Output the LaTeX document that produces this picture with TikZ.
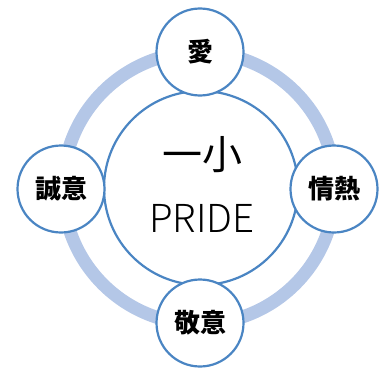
\documentclass[tikz,border=0pt]{standalone}
\usepackage{fontspec}
\newfontfamily\jpfont{Noto Sans CJK JP}
\newfontfamily\pridefont{Noto Sans CJK JP Light}
\definecolor{RingBlue}{HTML}{B4C7E7}
\definecolor{EdgeBlue}{HTML}{4A85C3}
\usetikzlibrary{positioning}
\tikzset{
	core/.style={
		circle,draw=EdgeBlue,line width=2.2pt,fill=white,minimum size=194pt,inner sep=0pt},
	satellite/.style={
		circle,draw=EdgeBlue,line width=2.2pt,fill=white,minimum size=87pt,inner sep=0pt,
		font=\jpfont\bfseries\fontsize{26}{26}\selectfont},
	ring/.style={draw=RingBlue,line width=13pt}
}

\begin{document}
\begin{tikzpicture}[x=1pt,y=-1pt]
			\useasboundingbox (0,0) rectangle (387,369);
			\coordinate (mid) at (199,188);
			\draw[ring] (mid) circle[radius=136pt];
			\node[core] (pride) at (201,188) {};
			\node[font=\jpfont\fontsize{40}{40}\selectfont] (ichisho) at (202,155) {一小};
			\node[font=\pridefont\fontsize{38.5}{38.5}\selectfont] (word) at (202,218) {PRIDE};
			\node[satellite] (ai) at (200,52) {愛};
			\node[satellite] (jonetsu) at (334,189) {情熱};
			\node[satellite] (keii) at (200,323) {敬意};
			\node[satellite] (seii) at (61,189) {誠意};
\end{tikzpicture}
\end{document}
